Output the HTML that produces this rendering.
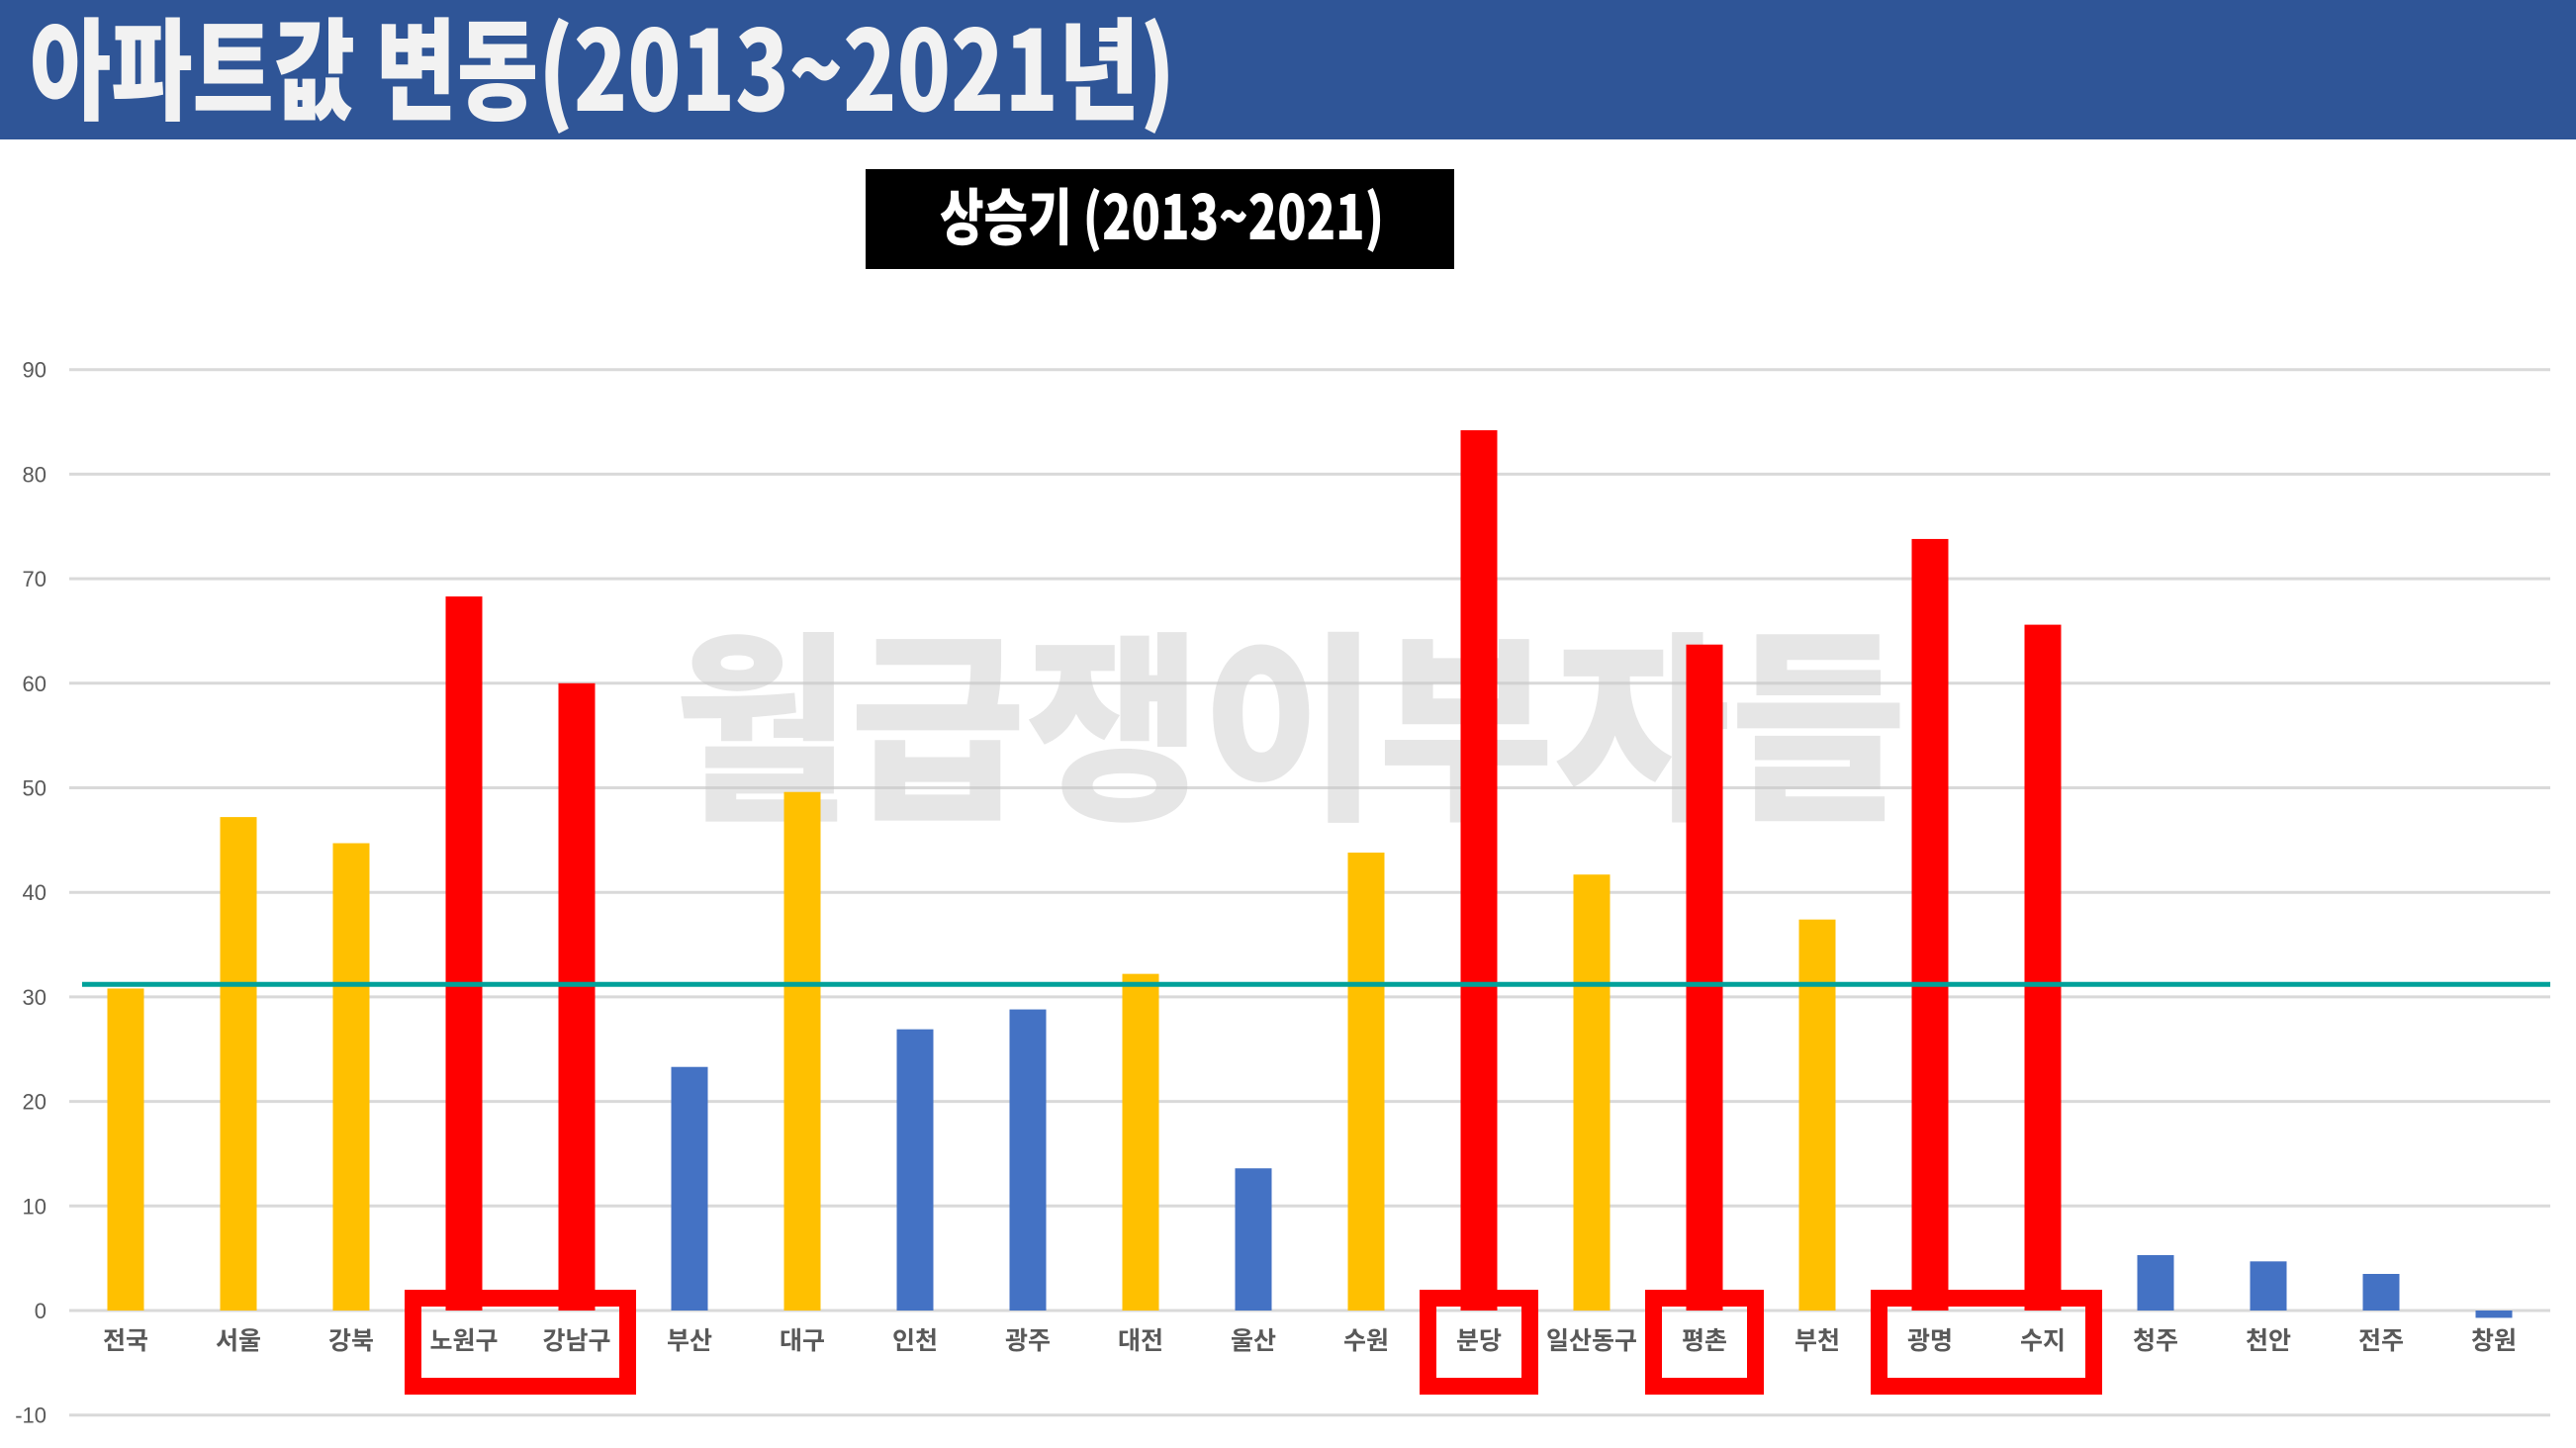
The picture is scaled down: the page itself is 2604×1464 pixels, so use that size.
<!DOCTYPE html>
<html><head><meta charset="utf-8">
<style>
html,body{margin:0;padding:0;background:#fff;}
svg{display:block;}
text{font-family:"Liberation Sans","Noto Sans CJK KR",sans-serif;}
</style></head>
<body>
<svg id="chart" width="2604" height="1464" viewBox="0 0 2604 1464" xmlns="http://www.w3.org/2000/svg">
  <rect x="0" y="0" width="2604" height="141" fill="#2f5597"/>
  <text x="30" y="112" font-size="112" font-weight="900" fill="#f2f2f2" textLength="1158" lengthAdjust="spacingAndGlyphs" style="font-family:'Noto Sans CJK KR',sans-serif">아파트값 변동(2013~2021년)</text>
  <rect x="875" y="171" width="595" height="101" fill="#000"/>
  <text x="950" y="242" font-size="62" font-weight="900" fill="#fff" textLength="449" lengthAdjust="spacingAndGlyphs" style="font-family:'Noto Sans CJK KR',sans-serif">상승기 (2013~2021)</text>
  <g id="grid"></g>
  <text x="681" y="812" font-size="205" font-weight="900" fill="#c8c8c8" fill-opacity="0.45" textLength="1246" lengthAdjust="spacingAndGlyphs" style="font-family:'Noto Sans CJK KR',sans-serif">월급쟁이부자들</text>
  <g id="bars"></g>
  <g id="labels"></g>
  <g id="boxes"></g>
</svg>
<script>
const categories=["전국","서울","강북","노원구","강남구","부산","대구","인천","광주","대전","울산","수원","분당","일산동구","평촌","부천","광명","수지","청주","천안","전주","창원"];
const values=[30.8,47.2,44.7,68.3,60.0,23.3,49.6,26.9,28.8,32.2,13.6,43.8,84.2,41.7,63.7,37.4,73.8,65.6,5.3,4.7,3.5,-0.7];
const groups=["y","y","y","r","r","b","y","b","b","y","b","y","r","y","r","y","r","r","b","b","b","b"];
const yTicks=[-10,0,10,20,30,40,50,60,70,80,90];
const averageValue=31.2;
const highlightGroups=[[3,4],[12],[14],[16,17]];

const NS="http://www.w3.org/2000/svg";
const X0=70,X1=2578,Y0=1325,PER=10.57;
const band=(X1-X0)/categories.length;
const xC=i=>X0+band*(i+0.5);
const yS=v=>Y0-v*PER;
const colors={y:"#ffc000",b:"#4472c4",r:"#ff0000"};
function mk(tag,attrs,parent){const e=document.createElementNS(NS,tag);for(const k in attrs)e.setAttribute(k,attrs[k]);parent.appendChild(e);return e;}
const grid=document.getElementById('grid');
yTicks.forEach(t=>{
  const l=mk('line',{x1:X0,x2:X1,y1:yS(t),y2:yS(t),stroke:"#d9d9d9","stroke-width":3},grid);
  
  
  const tx=mk('text',{x:47,y:yS(t)+8,"font-size":22,fill:"#595959","text-anchor":"end"},grid);
  
  
  tx.textContent=t;
});
const bars=document.getElementById('bars');
values.forEach((v,i)=>{
  const w=37;
  const r=mk('rect',{x:xC(i)-w/2,y:Math.min(yS(v),Y0),width:w,height:Math.abs(yS(v)-Y0),fill:colors[groups[i]]},bars);
  
  
});
const avg=mk('line',{x1:83,x2:X1,y1:yS(averageValue),y2:yS(averageValue),stroke:"#00a19a","stroke-width":5},bars);


const labels=document.getElementById('labels');
categories.forEach((c,i)=>{
  const t=mk('text',{x:xC(i),y:1364,"font-size":25,"font-weight":"bold",fill:"#595959","text-anchor":"middle"},labels);
  
  
  t.textContent=c;
});
const boxes=document.getElementById('boxes');
highlightGroups.forEach(g=>{
  const a=g[0],b=g[g.length-1];
  const left=xC(a)-60,right=xC(b)+60,sw=17;
  const r=mk('rect',{x:left+sw/2,y:1304+sw/2,width:right-left-sw,height:106-sw,fill:"none",stroke:"#ff0000","stroke-width":sw},boxes);
  
  
});
</script>
</body></html>
